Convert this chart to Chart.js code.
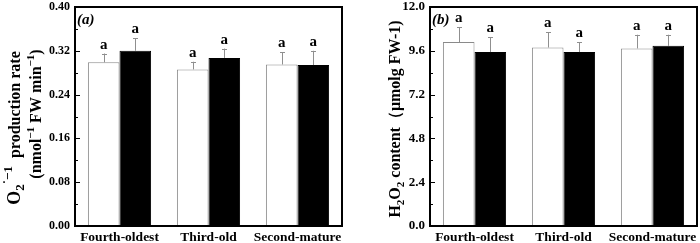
<!DOCTYPE html>
<html>
<head>
<meta charset="utf-8">
<script src="https://cdn.jsdelivr.net/npm/chart.js@4/dist/chart.umd.min.js"></script>
<style>
    body { margin: 0; background: #fff; }
    .panel { position: absolute; top: 0; width: 350px; height: 243px; }
</style>
</head>
<body>
<div class="panel" style="left:0"><canvas id="chartA" width="350" height="243"></canvas></div>
<div class="panel" style="left:350px"><canvas id="chartB" width="350" height="243"></canvas></div>
<script>
// 资料
const categories = ['Fourth-oldest', 'Third-old', 'Second-mature'];

const o2White = [0.299, 0.286, 0.295];
const o2WhiteErr = [0.016, 0.014, 0.022];
const o2Black = [0.320, 0.307, 0.294];
const o2BlackErr = [0.023, 0.017, 0.026];
const o2Letters = [['a', 'a', 'a'], ['a', 'a', 'a']];
const o2Ticks = [0, 0.08, 0.16, 0.24, 0.32, 0.40];

const h2White = [10.08, 9.78, 9.73];
const h2WhiteErr = [0.82, 0.85, 0.75];
const h2Black = [9.53, 9.53, 9.87];
const h2BlackErr = [0.80, 0.55, 0.61];
const h2Letters = [['a', 'a', 'a'], ['a', 'a', 'a']];
const h2Ticks = [0, 2.4, 4.8, 7.2, 9.6, 12.0];

const SERIF = '"Liberation Serif", "Times New Roman", serif';

// rotated rich text: segs = [text, size, dy]
function drawRotated(ctx, x, y, segs) {
    ctx.save();
    ctx.translate(x, y);
    ctx.rotate(-Math.PI / 2);
    ctx.textAlign = 'left';
    ctx.textBaseline = 'alphabetic';
    let total = 0;
    segs.forEach(s => {
        ctx.font = 'bold ' + s[1] + 'px ' + SERIF;
        total += ctx.measureText(s[0]).width;
    });
    let cx = -total / 2;
    segs.forEach(s => {
        ctx.font = 'bold ' + s[1] + 'px ' + SERIF;
        ctx.fillText(s[0], cx, s[2]);
        cx += ctx.measureText(s[0]).width;
    });
    ctx.restore();
}

const decoPlugin = {
    id: 'deco',
    afterDatasetsDraw(chart, args, opts) {
        const ctx = chart.ctx;
        const area = chart.chartArea;
        const y = chart.scales.y;
        ctx.save();
        // error bars + letters
        chart.data.datasets.forEach((ds, di) => {
            const meta = chart.getDatasetMeta(di);
            meta.data.forEach((bar, i) => {
                const top = y.getPixelForValue(ds.data[i] + opts.errors[di][i]);
                const base = y.getPixelForValue(ds.data[i]);
                ctx.strokeStyle = '#8f8f8f';
                ctx.lineWidth = 1;
                ctx.beginPath();
                ctx.moveTo(Math.round(bar.x) + 0.5, base);
                ctx.lineTo(Math.round(bar.x) + 0.5, top);
                ctx.moveTo(Math.round(bar.x) - 2, Math.round(top) + 0.5);
                ctx.lineTo(Math.round(bar.x) + 3, Math.round(top) + 0.5);
                ctx.stroke();
                ctx.fillStyle = '#000';
                ctx.font = 'bold 15px ' + SERIF;
                ctx.textAlign = 'center';
                ctx.textBaseline = 'alphabetic';
                ctx.fillText(opts.letters[di][i], bar.x, top - 5);
            });
        });
        // frame
        ctx.strokeStyle = '#000';
        ctx.lineWidth = 2;
        ctx.strokeRect(area.left, area.top, area.right - area.left, area.bottom - area.top);
        // inward ticks
        ctx.lineWidth = 1;
        ctx.beginPath();
        const tk = opts.ticks;
        tk.forEach((v, i) => {
            const py = Math.round(y.getPixelForValue(v)) + 0.5;
            ctx.moveTo(area.left, py);
            ctx.lineTo(area.left + 5, py);
            if (i < tk.length - 1) {
                const my = Math.round(y.getPixelForValue((v + tk[i + 1]) / 2)) + 0.5;
                ctx.moveTo(area.left, my);
                ctx.lineTo(area.left + 3, my);
            }
        });
        ctx.stroke();
        // panel label
        ctx.fillStyle = '#000';
        ctx.font = 'italic bold 15px ' + SERIF;
        ctx.textAlign = 'left';
        ctx.textBaseline = 'alphabetic';
        ctx.fillText(opts.panel, area.left + 2, area.top + 17);
        // axis title
        opts.title.forEach(line => drawRotated(ctx, line.x, line.y, line.segs));
        ctx.restore();
    }
};

function makeChart(id, white, black, errW, errB, letters, ticks, yMax, digits, yWidth, padRight, tickSize, panel, title) {
    return new Chart(document.getElementById(id), {
        type: 'bar',
        data: {
            labels: categories,
            datasets: [{
                data: white,
                backgroundColor: '#ffffff',
                borderColor: '#8a8a8a',
                borderWidth: 1
            }, {
                data: black,
                backgroundColor: '#000000',
                borderColor: '#000000',
                borderWidth: 1
            }]
        },
        options: {
            responsive: false,
            animation: false,
            layout: { padding: { top: 0, right: padRight, left: 0, bottom: 0 } },
            datasets: { bar: { categoryPercentage: 0.71, barPercentage: 1 } },
            plugins: {
                legend: { display: false },
                tooltip: { enabled: false },
                deco: { errors: [errW, errB], letters: letters, ticks: ticks, panel: panel, title: title }
            },
            scales: {
                x: {
                    grid: { display: false, drawTicks: false },
                    border: { display: false },
                    ticks: {
                        color: '#000',
                        padding: 3,
                        maxRotation: 0,
                        autoSkip: false,
                        font: { family: SERIF, size: 13.5, weight: 'bold' }
                    },
                    afterFit(scale) { scale.height = 17; }
                },
                y: {
                    min: 0,
                    max: yMax,
                    grid: { display: false, drawTicks: false },
                    border: { display: false },
                    afterBuildTicks(scale) { scale.ticks = ticks.map(v => ({ value: v })); },
                    ticks: {
                        color: '#000',
                        padding: 5,
                        font: { family: SERIF, size: tickSize, weight: 'bold' },
                        callback: v => Number(v).toFixed(digits)
                    },
                    afterFit(scale) {
                        scale.width = yWidth;
                        scale.paddingTop = 7;
                        scale.paddingBottom = 0;
                    }
                }
            }
        },
        plugins: [decoPlugin]
    });
}

makeChart('chartA', o2White, o2Black, o2WhiteErr, o2BlackErr, o2Letters, o2Ticks, 0.40, 2, 75, 8, 12, '(a)', [
    { x: 20, y: 128, segs: [['O', 18, 0], ['2', 13, 4], ['\u02D9\u22121', 13, -8], ['  production rate', 16, 0]] },
    { x: 41, y: 114, segs: [['(nmol', 16, 0], ['\u22121', 11, -7], [' FW min', 16, 0], ['\u22121', 11, -7], [')', 16, 0]] }
]);

makeChart('chartB', h2White, h2Black, h2WhiteErr, h2BlackErr, h2Letters, h2Ticks, 12, 1, 80, 3, 13, '(b)', [
    { x: 50, y: 119, segs: [['H', 16, 0], ['2', 11, 4], ['O', 16, 0], ['2', 11, 4], [' content\uFF08\u03BCmolg FW-1)', 16, 0]] }
]);
</script>
</body>
</html>
